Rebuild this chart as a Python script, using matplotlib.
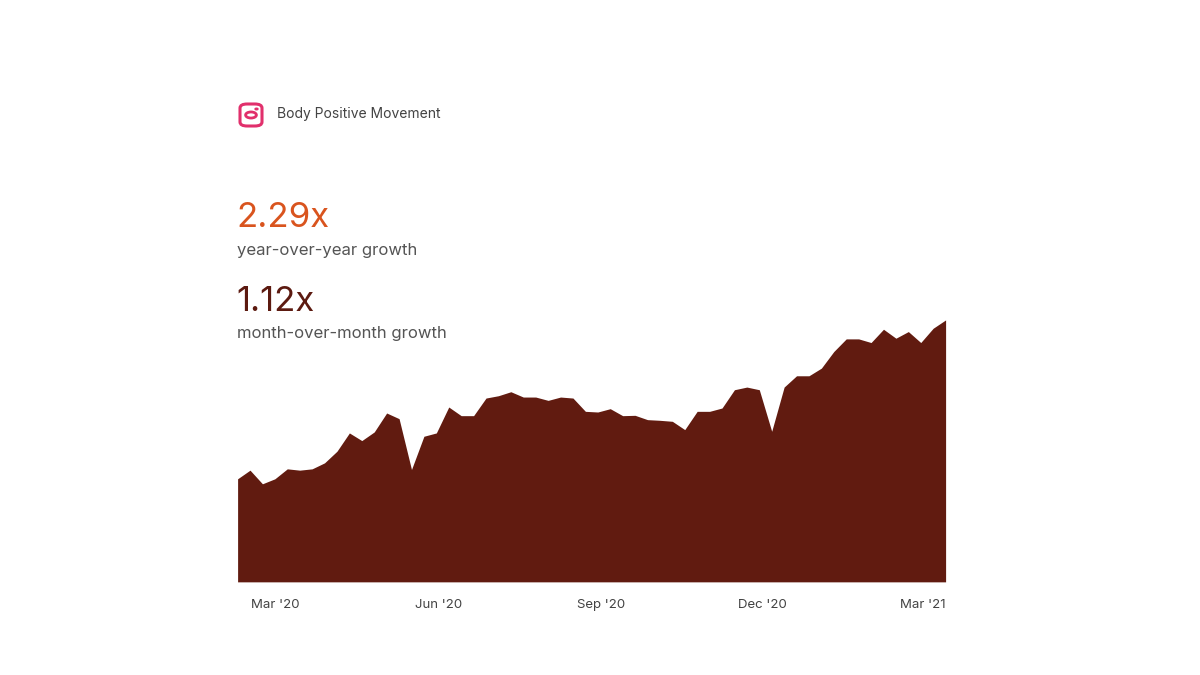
import numpy as np
import pandas as pd
import matplotlib.pyplot as plt
import matplotlib.dates as mdates
from matplotlib.patches import FancyBboxPatch, Circle

# weekly index values (relative scale)
dates = pd.date_range("2020-02-09", periods=58, freq="7D")
values = [310, 336, 295, 310, 340, 336, 340, 358, 393, 448, 425, 451, 508, 491,
          338, 438, 448, 526, 500, 500, 553, 560, 572, 556, 556, 546, 556, 553,
          513, 511, 521, 500, 501, 488, 486, 483, 458, 513, 513, 523, 578, 586,
          578, 453, 586, 620, 620, 643, 693, 731, 731, 720, 760, 733, 753, 720,
          763, 788]
tick_dates = pd.to_datetime(["2020-03-01", "2020-06-01", "2020-09-01", "2020-12-01", "2021-03-01"])
tick_labels = ["Mar '20", "Jun '20", "Sep '20", "Dec '20", "Mar '21"]

fig = plt.figure(figsize=(12, 6.75), dpi=100)
fig.patch.set_facecolor("white")
plt.rcParams["font.family"] = "Inter"

ax = fig.add_axes([0.198, 0.138, 0.59, 0.389])
ax.fill_between(dates, values, 0, color="#611b10", linewidth=0)
ax.set_xlim(dates[0], dates[-1])
ax.set_ylim(0, 790)
ax.set_yticks([])
ax.set_xticks(tick_dates)
ax.set_xticklabels(tick_labels, fontsize=9.5, color="#444444")
ax.tick_params(axis="x", length=0, pad=12)
for s in ax.spines.values():
    s.set_visible(False)

# instagram-like icon
icon = FancyBboxPatch((240 / 1200, 1 - 126 / 675), 22 / 1200, 22 / 675,
                      boxstyle="round,pad=0,rounding_size=0.006",
                      transform=fig.transFigure, fill=False,
                      edgecolor="#e1306c", linewidth=2.2)
fig.patches.append(icon)
fig.patches.append(Circle((251 / 1200, 1 - 115 / 675), 0.0045, transform=fig.transFigure,
                          fill=False, edgecolor="#e1306c", linewidth=2))
fig.patches.append(Circle((256.5 / 1200, 1 - 109 / 675), 0.0012, transform=fig.transFigure,
                          color="#e1306c"))

fig.text(277 / 1200, 1 - 114 / 675, "Body Positive Movement", fontsize=10,
         color="#444444", va="center")
fig.text(236 / 1200, 1 - 218 / 675, "2.29x", fontsize=25, color="#d9541e", va="center")
fig.text(237 / 1200, 1 - 250 / 675, "year-over-year growth", fontsize=12,
         color="#555555", va="center")
fig.text(236 / 1200, 1 - 302 / 675, "1.12x", fontsize=25, color="#5c1a10", va="center")
fig.text(237 / 1200, 1 - 333 / 675, "month-over-month growth", fontsize=12,
         color="#555555", va="center")

fig.savefig("out.png", dpi=100)
